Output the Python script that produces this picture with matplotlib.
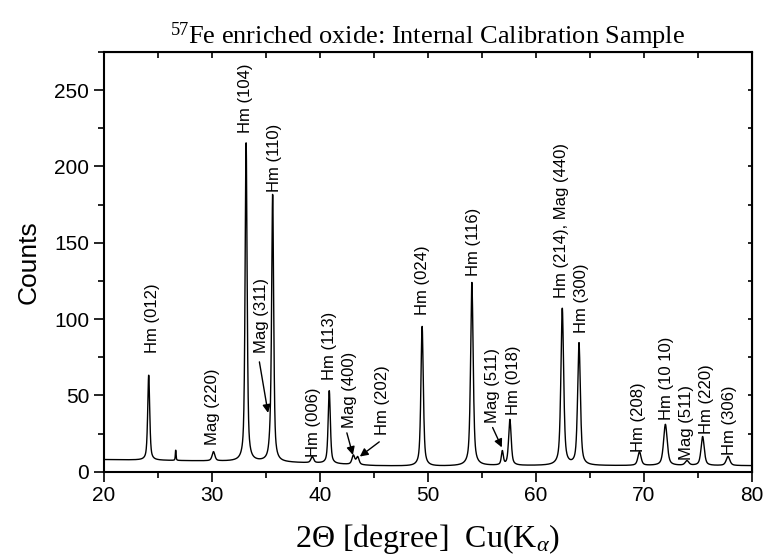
import numpy as np
import matplotlib
matplotlib.use("Agg")
import matplotlib.pyplot as plt
from matplotlib.ticker import MultipleLocator

plt.rcParams["font.family"] = ["Liberation Sans", "DejaVu Sans"]
plt.rcParams["mathtext.fontset"] = "custom"
plt.rcParams["mathtext.rm"] = "Liberation Serif"
plt.rcParams["mathtext.it"] = "Liberation Serif:italic"

# reflections: position (2theta), height above background, FWHM
peak_pos = [24.15, 26.65, 30.15, 33.17, 35.45, 35.63, 39.30, 40.87, 43.10, 43.50,
            49.47, 54.08, 56.90, 57.60, 62.45, 64.00, 69.60, 72.00, 74.00, 75.45, 77.80]
peak_height = [56, 7, 6, 210, 10, 172, 4, 48, 6, 5,
               92, 120, 9, 30, 103, 80, 9, 27, 3, 19, 6]
peak_fwhm = [0.22, 0.08, 0.30, 0.22, 0.30, 0.22, 0.30, 0.24, 0.30, 0.30,
             0.26, 0.28, 0.22, 0.28, 0.30, 0.30, 0.35, 0.40, 0.40, 0.35, 0.40]

# background level
bg_x = [20, 25, 30, 35, 40, 45, 50, 55, 60, 65, 70, 75, 80]
bg_y = [8.0, 7.5, 7.0, 6.5, 5.5, 4.0, 3.5, 4.0, 4.0, 4.0, 4.0, 4.0, 4.0]

# peak labels: text, x, y of the text's bottom end
label_text = ["Hm (012)", "Mag (220)", "Hm (104)", "Hm (110)", "Mag (311)", "Hm (006)",
              "Hm (113)", "Mag (400)", "Hm (202)", "Hm (024)", "Hm (116)", "Mag (511)",
              "Hm (018)", "Hm (214), Mag (440)", "Hm (300)", "Hm (208)", "Hm (10 10)",
              "Mag (511)", "Hm (220)", "Hm (306)"]
label_x = [24.5, 30.1, 33.1, 35.8, 34.6, 39.4, 40.9, 42.7, 45.8, 49.55, 54.2, 56.0,
           57.9, 62.4, 64.25, 69.5, 72.1, 74.0, 75.8, 77.95]
label_y = [78, 17.5, 222, 183, 78, 10, 60, 29, 24, 103, 128, 32,
           37, 114, 91, 13, 34, 8, 25, 11]

# arrows: (from) -> (to)
arrow_from = [(34.4, 72), (42.5, 25.5), (45.5, 19.6), (56.0, 29)]
arrow_to = [(35.2, 38.6), (43.06, 11), (43.7, 10), (56.85, 16)]

x = np.arange(20, 80.001, 0.02)
y = np.interp(x, bg_x, bg_y)
for p, h, w in zip(peak_pos, peak_height, peak_fwhm):
    g = np.exp(-4 * np.log(2) * ((x - p) / w) ** 2)
    lor = 1 / (1 + 4 * ((x - p) / w) ** 2)
    y += h * (0.4 * g + 0.6 * lor)

fig = plt.figure(figsize=(7.64, 5.59), dpi=100)
ax = fig.add_axes([0.136, 0.156, 0.848, 0.751])
ax.plot(x, y, color="black", lw=1.0)

ax.set_xlim(20, 80)
ax.set_ylim(0, 275)
ax.xaxis.set_major_locator(MultipleLocator(10))
ax.xaxis.set_minor_locator(MultipleLocator(5))
ax.yaxis.set_major_locator(MultipleLocator(50))
ax.yaxis.set_minor_locator(MultipleLocator(25))
ax.tick_params(which="both", direction="out", width=1.2, labelsize=15)
ax.tick_params(which="major", length=7)
ax.tick_params(which="minor", length=4)
for s in ax.spines.values():
    s.set_linewidth(1.5)

# inward ticks on the top and right frame
sec_x = ax.secondary_xaxis("top")
sec_x.xaxis.set_major_locator(MultipleLocator(5))
sec_x.tick_params(direction="in", length=4, width=1.2, labeltop=False)
sec_y = ax.secondary_yaxis("right")
sec_y.yaxis.set_major_locator(MultipleLocator(25))
sec_y.tick_params(direction="in", length=3, width=1.2, labelright=False)

ax.set_ylabel("Counts", fontsize=19, labelpad=10)
ax.set_xlabel(r"2Θ [degree]  Cu(K$_\alpha$)", fontsize=23,
              family=["Liberation Serif", "DejaVu Serif"], labelpad=12)
ax.set_title(r"$^{57}$Fe enriched oxide: Internal Calibration Sample", fontsize=19,
             family=["Liberation Serif", "DejaVu Serif"], pad=5)

for t, lx, ly in zip(label_text, label_x, label_y):
    ax.text(lx, ly, t, rotation=90, ha="center", va="bottom", fontsize=12)

for (x0, y0), (x1, y1) in zip(arrow_from, arrow_to):
    ax.annotate("", xy=(x1, y1), xytext=(x0, y0),
                arrowprops=dict(arrowstyle="-|>", color="black", lw=1.0,
                                mutation_scale=12, shrinkA=0, shrinkB=0))

fig.savefig("out.png", dpi=100)
